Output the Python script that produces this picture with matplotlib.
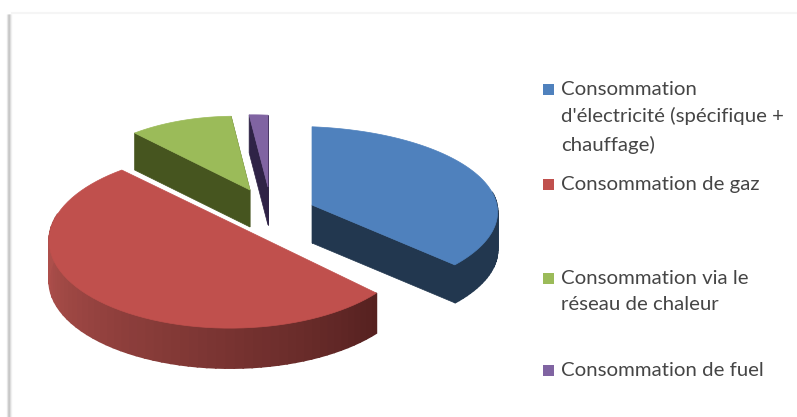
import numpy as np
import matplotlib
matplotlib.use("Agg")
import matplotlib.pyplot as plt
from matplotlib.patches import Polygon, Rectangle

labels = ["Consommation\nd'électricité (spécifique +\nchauffage)",
          "Consommation de gaz",
          "Consommation via le\nréseau de chaleur",
          "Consommation de fuel"]
values = [37.5, 50.0, 10.5, 2.0]
top_colors = ["#4f81bd", "#c0504d", "#9bbb59", "#8064a2"]
side_far = ["#22374f", "#ad4f4b", "#46551f", "#2f2346"]   # colour of the rim far round the slice
side_near = ["#22374f", "#552120", "#46551f", "#2f2346"]  # colour of the rim at the slice start

# layout of the exploded slices, in pixels
apex = [(312, 205), (250, 232), (250, 190), (268, 187)]
scale_x = [1.13, 1.0, 0.9, 0.9]
scale_y = [0.98, 1.0, 0.92, 0.9]
depth = [38, 40, 37, 38]
RX, RY, A, B = 180.0, 87.0, 0.10, 0.09
legend_y = [(89, 116, 145), (184,), (278, 305), (370,)]

fig = plt.figure(figsize=(7.97, 4.17), dpi=100)
ax = fig.add_axes([0, 0, 1, 1])
ax.set_xlim(0, 797)
ax.set_ylim(417, 0)
ax.axis("off")

# picture frame with soft shadow
for i, c in enumerate(["#ececec", "#d0d0d0", "#c4c4c4", "#d8d8d8", "#f0f0f0"]):
    ax.plot([7 + i, 7 + i], [14, 417], color=c, lw=1, solid_capstyle="butt")
ax.plot([12, 797], [13, 13], color="#f5f5f5", lw=1.5)


def rim(theta, sx, sy, c):
    t = np.radians(theta)
    u, v = np.sin(t), -np.cos(t)
    w = 1 + A * u - B * v
    return np.column_stack((c[0] + sx * RX * u / w, c[1] + sy * RY * v / w))


def mix(a, b, f):
    ca, cb = matplotlib.colors.to_rgb(a), matplotlib.colors.to_rgb(b)
    return tuple((1 - f) * x + f * y for x, y in zip(ca, cb))


edges = np.concatenate(([0], np.cumsum(values))) * 3.6
for i in [2, 3, 0, 1]:
    a0, a1 = edges[i], edges[i + 1]
    c, sx, sy, d = np.array(apex[i], float), scale_x[i], scale_y[i], depth[i]
    drop = np.array([0, d])
    ths = np.linspace(a0, a1, 70)
    pts = rim(ths, sx, sy, c)
    # radial walls
    for th in (a0, a1):
        p = rim(np.array([th]), sx, sy, c)[0]
        wall = [c, p, p + drop, c + drop]
        if i != 1:
            ax.add_patch(Polygon(wall, closed=True, fc=side_near[i], ec=side_near[i], lw=0.5))
    # outer rim, shaded along the arc
    for k in range(len(ths) - 1):
        m = 0.5 * (ths[k] + ths[k + 1])
        if 80 < m < 280:
            f = (m - a0) / max(a1 - a0, 1)
            col = mix(side_near[i], side_far[i], min(f * 1.4, 1))
            q = [pts[k], pts[k + 1], pts[k + 1] + drop, pts[k] + drop]
            ax.add_patch(Polygon(q, closed=True, fc=col, ec=col, lw=1.2))
    ax.add_patch(Polygon(np.vstack((c, pts)), closed=True, fc=top_colors[i],
                         ec=top_colors[i], lw=0.5))

for lab, ys, col in zip(labels, legend_y, top_colors):
    ax.add_patch(Rectangle((543, ys[0] - 5), 11, 11, fc=col, ec="none"))
    for line, y in zip(lab.split("\n"), ys):
        ax.text(561, y, line, family="Lato", fontsize=14.7, color="#454545",
                va="center", ha="left")

fig.savefig("out.png", dpi=100)
